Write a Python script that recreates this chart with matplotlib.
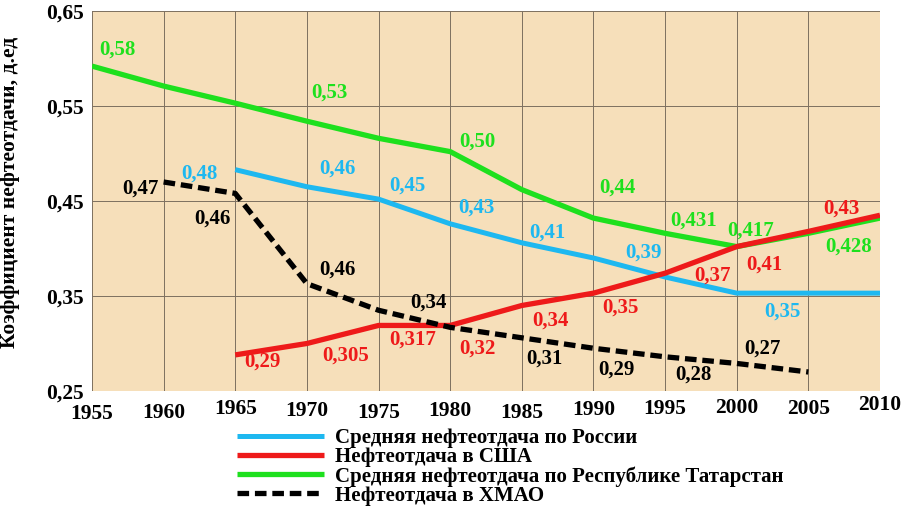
import matplotlib.pyplot as plt
import matplotlib.transforms as mtransforms
import numpy as np

years = [1955, 1960, 1965, 1970, 1975, 1980, 1985, 1990, 1995, 2000, 2005, 2010]

# line values
tatarstan_x = [1955, 1960, 1965, 1970, 1975, 1980, 1985, 1990, 1995, 2000, 2005, 2010]
tatarstan_y = [0.592, 0.571, 0.553, 0.534, 0.516, 0.502, 0.462, 0.432, 0.416, 0.402, 0.416, 0.432]

russia_x = [1965, 1970, 1975, 1980, 1985, 1990, 1995, 2000, 2005, 2010]
russia_y = [0.483, 0.465, 0.452, 0.426, 0.406, 0.390, 0.370, 0.353, 0.353, 0.353]

usa_x = [1965, 1970, 1975, 1980, 1985, 1990, 1995, 2000, 2005, 2010]
usa_y = [0.288, 0.300, 0.319, 0.319, 0.340, 0.353, 0.374, 0.402, 0.418, 0.435]

khmao_x = [1960, 1965, 1970, 1975, 1980, 1985, 1990, 1995, 2000, 2005]
khmao_y = [0.470, 0.458, 0.363, 0.335, 0.317, 0.306, 0.295, 0.286, 0.279, 0.270]

# printed value labels
tatarstan_lbl = ["0,58", "0,53", "0,50", "0,44", "0,431", "0,417", "0,428"]
russia_lbl = ["0,48", "0,46", "0,45", "0,43", "0,41", "0,39", "0,35"]
usa_lbl = ["0,29", "0,305", "0,317", "0,32", "0,34", "0,35", "0,37", "0,41", "0,43"]
khmao_lbl = ["0,47", "0,46", "0,46", "0,34", "0,31", "0,29", "0,28", "0,27"]

names = ["Средняя нефтеотдача по России",
         "Нефтеотдача в США",
         "Средняя нефтеотдача по Республике Татарстан",
         "Нефтеотдача в ХМАО"]

yticks = [0.25, 0.35, 0.45, 0.55, 0.65]

# label placement (layout only)
tatarstan_pos = [(1956.8, 0.609), (1971.6, 0.564), (1981.9, 0.513), (1991.7, 0.464),
                 (1997.0, 0.429), (2001.0, 0.419), (2007.8, 0.402)]
russia_pos = [(1962.5, 0.479), (1972.1, 0.484), (1977.0, 0.466), (1981.8, 0.443),
              (1986.8, 0.417), (1993.5, 0.396), (2003.2, 0.334)]
usa_pos = [(1966.9, 0.281), (1972.7, 0.287), (1977.4, 0.304), (1981.9, 0.295),
           (1987.0, 0.324), (1991.9, 0.338), (1998.3, 0.372), (2001.9, 0.383), (2007.3, 0.442)]
khmao_pos = [(1958.4, 0.463), (1963.4, 0.431), (1972.1, 0.378), (1978.5, 0.343),
             (1986.6, 0.284), (1991.6, 0.273), (1997.0, 0.267), (2001.8, 0.295)]
# the year labels sit a bit unevenly in the original (pixels, + = down)
xtick_drop = [6, 5, 1, 3, 5, 3, 5, 2, 1, 0, 1, -3]

plt.rcParams['font.family'] = ['Liberation Serif', 'DejaVu Serif']
plt.rcParams['font.weight'] = 'bold'

c_green = "#1EE01E"
c_blue = "#1EB8F0"
c_red = "#EE1A1A"
c_black = "#000000"

fig = plt.figure(figsize=(9.06, 5.07), dpi=100)
ax = fig.add_axes([0.1015, 0.2288, 0.8698, 0.7495])
ax.set_facecolor("#F6DFBA")

ax.plot(russia_x, russia_y, color=c_blue, lw=3.6, solid_capstyle='butt', label=names[0], zorder=3)
ax.plot(usa_x, usa_y, color=c_red, lw=3.8, solid_capstyle='butt', label=names[1], zorder=4)
ax.plot(tatarstan_x, tatarstan_y, color=c_green, lw=3.8, solid_capstyle='butt', label=names[2], zorder=3)
ax.plot(khmao_x, khmao_y, color=c_black, lw=3.8, ls=(0, (2.2, 1.1)), label=names[3], zorder=5)

for lbls, pos, col in [(tatarstan_lbl, tatarstan_pos, c_green),
                       (russia_lbl, russia_pos, c_blue),
                       (usa_lbl, usa_pos, c_red),
                       (khmao_lbl, khmao_pos, c_black)]:
    for t, (x, y) in zip(lbls, pos):
        ax.text(x, y, t, color=col, fontsize=15, fontweight='bold',
                ha='center', va='center', zorder=6)

ax.set_xlim(1955, 2010)
ax.set_ylim(0.25, 0.65)
ax.set_xticks(years)
ax.set_xticklabels([str(y) for y in years])
ax.set_yticks(yticks)
ax.set_yticklabels([f"{v:.2f}".replace(".", ",") for v in yticks])
ax.grid(True, color="#7d7060", lw=0.7)
ax.tick_params(length=0, labelsize=15.5)
ax.tick_params(axis='x', pad=5)
ax.tick_params(axis='y', pad=6)
for s in ax.spines.values():
    s.set_visible(False)
for lab, d in zip(ax.get_xticklabels(), xtick_drop):
    lab.set_transform(lab.get_transform() +
                      mtransforms.ScaledTranslation(0, -d / 100, fig.dpi_scale_trans))

ax.set_ylabel("Коэффициент нефтеотдачи, д.ед", fontsize=15.5, fontweight='bold')
ax.yaxis.set_label_coords(-0.091, 0.522)

fig.legend(loc='upper left', bbox_to_anchor=(0.252, 0.172), frameon=False,
           handlelength=4.2, handletextpad=0.5, labelspacing=-0.05,
           borderaxespad=0, prop={'weight': 'bold', 'size': 15})

fig.savefig("out.png", dpi=100)
